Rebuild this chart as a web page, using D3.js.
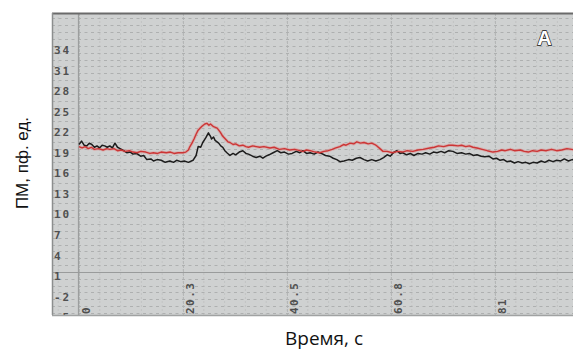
<!DOCTYPE html>
<html>
<head>
<meta charset="utf-8">
<script src="https://cdn.jsdelivr.net/npm/d3@7"></script>
<style>
  html, body { margin: 0; padding: 0; background: #ffffff; }
  svg { display: block; }
</style>
</head>
<body>
<svg id="chart" width="573" height="350"></svg>
<script>
// ---- data ----
const xTickValues = [0, 20.25, 40.5, 60.75, 81];
const xTickLabels = ["0", "20.3", "40.5", "60.8", "81"];
const yTickValues = [34, 31, 28, 25, 22, 19, 16, 13, 10, 7, 4, 1, -2, -5];
const yTickLabels = ["34", "31", "28", "25", "22", "19", "16", "13", "10", "7", "4", "1", "-2", "-5"];

const redTime = [0, 0.6, 1.2, 1.8, 2.4, 3, 3.8, 4.7, 5.4, 6, 6.8, 7.5, 8.2, 9, 9.8, 10.5, 11.3, 12, 13, 13.8, 14.5, 15.3, 16, 17, 17.8, 18.5, 19.3, 20.2, 20.8, 21.3, 21.6, 22, 22.4, 22.8, 23.2, 23.6, 24, 24.5, 24.9, 25.3, 25.6, 26.2, 26.9, 27.5, 28, 28.5, 29, 29.4, 30, 30.5, 31.2, 31.9, 32.5, 33, 33.8, 34.5, 35.2, 36, 37.2, 38, 39, 40, 41, 42, 43, 43.6, 44.3, 45, 46, 46.9, 47.7, 48.5, 49.3, 50, 50.8, 51.5, 52, 52.8, 53.5, 54.1, 54.8, 55.5, 56.3, 57, 57.6, 58, 58.6, 59.2, 60, 61, 62, 63, 63.9, 65, 66, 67, 68.3, 69.2, 70, 71, 72, 72.8, 73.8, 74.5, 75.3, 76, 76.7, 77.5, 78.5, 79.5, 80.6, 81.5, 82.3, 83, 84, 84.8, 85.9, 86.7, 87.5, 88.3, 89.2, 90, 91, 92, 93, 94, 95, 96.6];
const redValue = [19.9, 19.7, 19.9, 19.6, 19.8, 19.5, 19.6, 19.4, 19.6, 19.5, 19.6, 19.3, 19.4, 19.2, 19.3, 19.1, 19.0, 19.2, 19.1, 18.9, 19.0, 18.9, 19.1, 19.0, 19.1, 18.9, 19.0, 19.0, 19.1, 19.4, 19.9, 20.4, 21.0, 21.7, 22.3, 22.6, 22.9, 23.2, 23.3, 23.0, 23.2, 22.8, 22.6, 22.0, 21.4, 21.0, 20.6, 20.5, 20.2, 20.3, 20.0, 20.1, 19.9, 19.8, 20.0, 19.9, 19.8, 19.9, 19.7, 19.8, 19.5, 19.6, 19.4, 19.5, 19.3, 19.2, 19.4, 19.3, 19.1, 19.0, 19.2, 19.3, 19.5, 19.7, 19.9, 20.2, 20.1, 20.4, 20.3, 20.6, 20.4, 20.5, 20.3, 20.4, 20.2, 20.0, 19.6, 19.2, 19.2, 19.0, 19.2, 19.1, 19.3, 19.2, 19.4, 19.5, 19.7, 19.8, 20.0, 19.9, 20.1, 20.1, 20.0, 20.1, 19.9, 20.0, 19.8, 19.7, 19.5, 19.3, 19.1, 19.2, 19.4, 19.3, 19.5, 19.3, 19.4, 19.2, 19.1, 19.3, 19.2, 19.4, 19.3, 19.5, 19.3, 19.4, 19.6, 19.4];

const blackTime = [0, 0.5, 1, 1.5, 2, 2.5, 3, 3.5, 4, 4.5, 5, 5.5, 6, 6.5, 7, 7.5, 8, 8.7, 9.3, 10, 10.5, 11.2, 12, 12.6, 13.2, 14, 14.5, 15.2, 16, 16.8, 17.7, 18.4, 19, 19.8, 20.5, 21.3, 22.2, 22.8, 23.2, 23.7, 24.1, 24.7, 25.2, 25.6, 25.8, 26.2, 26.5, 27.2, 27.6, 28, 28.4, 28.8, 29.4, 30, 30.5, 31.2, 31.9, 32.5, 33, 33.8, 34.5, 35.2, 35.8, 36.4, 37, 37.8, 38.6, 39.3, 40, 40.8, 41.5, 42.3, 43, 43.6, 44.3, 45, 45.8, 46.5, 47.2, 48, 48.8, 49.5, 50.2, 50.8, 51.6, 52.5, 53.2, 54, 54.7, 55.5, 56.2, 57, 57.8, 58.6, 59.3, 60, 60.6, 61.2, 61.9, 62.5, 63, 63.8, 64.5, 65.2, 66, 66.8, 67.5, 68.3, 69, 69.7, 70.5, 71.2, 72, 72.8, 73.6, 74.5, 75.3, 76, 76.8, 77.5, 78.3, 79, 79.8, 80.6, 81.3, 82, 82.7, 83.3, 84, 84.8, 85.5, 86.3, 87, 87.7, 88.4, 89.2, 90, 90.7, 91.5, 92.3, 93, 93.8, 94.5, 95.3, 96, 96.6];
const blackValue = [20.2, 20.7, 20.1, 20.0, 20.4, 20.2, 19.8, 20.0, 19.7, 20.1, 20.0, 19.8, 20.0, 19.7, 20.4, 19.8, 19.6, 19.3, 19.0, 19.1, 18.8, 18.9, 18.5, 18.6, 18.0, 18.1, 17.8, 18.0, 17.9, 17.6, 17.8, 17.6, 17.9, 17.7, 17.8, 17.6, 17.9, 18.6, 19.9, 19.8, 20.5, 21.2, 21.9, 21.4, 21.0, 21.3, 20.8, 20.4, 20.0, 19.8, 19.3, 19.0, 18.6, 18.9, 18.7, 19.1, 19.3, 18.9, 18.8, 18.5, 18.3, 18.5, 18.2, 18.5, 18.7, 19.0, 19.3, 19.0, 19.1, 18.8, 18.9, 19.2, 19.0, 19.3, 18.9, 19.0, 18.8, 19.1, 18.9, 18.6, 18.5, 18.2, 18.0, 17.7, 17.8, 18.0, 17.9, 18.2, 18.3, 18.0, 17.8, 18.0, 17.8, 18.0, 18.3, 18.7, 18.5, 19.0, 19.3, 18.9, 19.0, 18.7, 18.9, 18.6, 18.9, 18.8, 19.0, 18.8, 19.1, 19.0, 19.2, 19.0, 19.3, 19.2, 18.9, 19.0, 18.8, 18.9, 18.6, 18.7, 18.5, 18.4, 18.5, 18.1, 18.2, 17.9, 18.0, 17.7, 17.8, 17.5, 17.7, 17.5, 17.6, 17.4, 17.6, 17.5, 17.8, 17.6, 17.9, 17.7, 17.9, 17.8, 18.1, 17.8, 18.0, 17.9];

const yTitle = "ПМ, пф. ед.";
const xTitle = "Время, с";
const panelLabel = "A";

// ---- layout ----
const W = 573, H = 350;
const panel = { left: 52, top: 13, right: 575, bottom: 315 };
const plotLeft = 79;
const baselineY = 272;

const svg = d3.select("#chart");

const x = d3.scaleLinear().domain([0, 20.25]).range([plotLeft, plotLeft + 104]);
const y = d3.scaleLinear().domain([34, -2]).range([50, 50 + 36 * 6.85]);

// clip
svg.append("defs").append("clipPath").attr("id", "panelClip")
  .append("rect")
  .attr("x", panel.left).attr("y", panel.top)
  .attr("width", panel.right - panel.left).attr("height", panel.bottom - panel.top);

// panel background
svg.append("rect")
  .attr("x", panel.left).attr("y", panel.top)
  .attr("width", panel.right - panel.left).attr("height", panel.bottom - panel.top)
  .attr("fill", "#cfd1d1");

const g = svg.append("g").attr("clip-path", "url(#panelClip)");

// vertical faint grid lines
const xMinor = d3.range(-8.1, 101.3, 4.05);
g.selectAll("line.vminor").data(xMinor).join("line")
  .attr("class", "vminor")
  .attr("x1", d => x(d)).attr("x2", d => x(d))
  .attr("y1", panel.top).attr("y2", panel.bottom)
  .attr("stroke", "#c2c4c4").attr("stroke-width", 1)
  .attr("stroke-dasharray", "2,2");

g.selectAll("line.vmajor").data(xTickValues.concat([101.25])).join("line")
  .attr("class", "vmajor")
  .attr("x1", d => x(d) + 0.5).attr("x2", d => x(d) + 0.5)
  .attr("y1", panel.top).attr("y2", panel.bottom)
  .attr("stroke", "#b5b7b7").attr("stroke-width", 1)
  .attr("stroke-dasharray", "3,1");

// horizontal dashed grid lines (each unit)
const yGrid = d3.range(-5, 40, 1);
g.selectAll("line.hgrid").data(yGrid).join("line")
  .attr("class", "hgrid")
  .attr("x1", panel.left).attr("x2", panel.right)
  .attr("y1", d => Math.round(y(d - 0.4)) + 0.5).attr("y2", d => Math.round(y(d - 0.4)) + 0.5)
  .attr("stroke", "#aeb0b0").attr("stroke-width", 1)
  .attr("stroke-dasharray", "3,3.5");

// axis lines
g.append("line")
  .attr("x1", plotLeft - 0.5).attr("x2", plotLeft - 0.5)
  .attr("y1", panel.top).attr("y2", panel.bottom)
  .attr("stroke", "#9c9e9e").attr("stroke-width", 1.2);
g.append("line")
  .attr("x1", panel.left).attr("x2", panel.right)
  .attr("y1", baselineY + 0.5).attr("y2", baselineY + 0.5)
  .attr("stroke", "#999b9b").attr("stroke-width", 1.2);

// y tick labels
g.selectAll("text.ylab").data(yTickValues).join("text")
  .attr("class", "ylab")
  .attr("x", 54)
  .attr("y", d => y(d) + 4)
  .attr("font-family", "DejaVu Sans Mono, monospace")
  .attr("font-size", 11)
  .attr("font-weight", "bold")
  .attr("letter-spacing", "2px")
  .attr("fill", "#505050")
  .text((d, i) => yTickLabels[i]);

// x tick labels (rotated)
g.selectAll("text.xlab").data(xTickValues).join("text")
  .attr("class", "xlab")
  .attr("transform", d => `translate(${x(d) + 11},314) rotate(-90)`)
  .attr("font-family", "DejaVu Sans Mono, monospace")
  .attr("font-size", 11)
  .attr("font-weight", "bold")
  .attr("letter-spacing", "1.5px")
  .attr("fill", "#505050")
  .text((d, i) => xTickLabels[i]);

// lines
const line = d3.line().x(d => x(d[0])).y(d => y(d[1]));
const redPts = redTime.map((t, i) => [t, redValue[i]]);
const blackPts = blackTime.map((t, i) => [t, blackValue[i]]);

g.append("path").datum(redPts).attr("d", line)
  .attr("fill", "none").attr("stroke", "#e08a8a").attr("stroke-width", 3.2).attr("stroke-opacity", 0.45)
  .attr("stroke-linejoin", "round");
g.append("path").datum(blackPts).attr("d", line)
  .attr("fill", "none").attr("stroke", "#1c1c1c").attr("stroke-width", 1.5)
  .attr("stroke-linejoin", "round");
g.append("path").datum(redPts).attr("d", line)
  .attr("fill", "none").attr("stroke", "#cc3535").attr("stroke-width", 1.4)
  .attr("stroke-linejoin", "round");

// panel borders
svg.append("line").attr("x1", panel.left).attr("x2", W).attr("y1", panel.top + 0.5).attr("y2", panel.top + 0.5)
  .attr("stroke", "#6a6a6a").attr("stroke-width", 2);
svg.append("line").attr("x1", panel.left + 0.5).attr("x2", panel.left + 0.5).attr("y1", panel.top).attr("y2", panel.bottom)
  .attr("stroke", "#8c8e8e").attr("stroke-width", 1.5);
svg.append("line").attr("x1", panel.left).attr("x2", W).attr("y1", panel.bottom + 0.5).attr("y2", panel.bottom + 0.5)
  .attr("stroke", "#a0a2a2").attr("stroke-width", 1.5);

// panel label "A"
svg.append("text")
  .attr("x", 544.5).attr("y", 45)
  .attr("text-anchor", "middle")
  .attr("font-family", "Liberation Sans, Arial, sans-serif")
  .attr("font-size", 20)
  .attr("font-weight", "bold")
  .attr("fill", "#ffffff")
  .attr("stroke", "#111111")
  .attr("stroke-width", 1.3)
  .attr("paint-order", "stroke")
  .text(panelLabel);

// axis titles
svg.append("text")
  .attr("transform", "translate(28,163) rotate(-90)")
  .attr("text-anchor", "middle")
  .attr("font-family", "Liberation Sans, Arial, sans-serif")
  .attr("font-size", 17)
  .attr("fill", "#111111")
  .text(yTitle);

svg.append("text")
  .attr("x", 324).attr("y", 345)
  .attr("text-anchor", "middle")
  .attr("font-family", "Open Sans, sans-serif")
  .attr("font-size", 19)
  .attr("fill", "#111111")
  .text(xTitle);
</script>
</body>
</html>
